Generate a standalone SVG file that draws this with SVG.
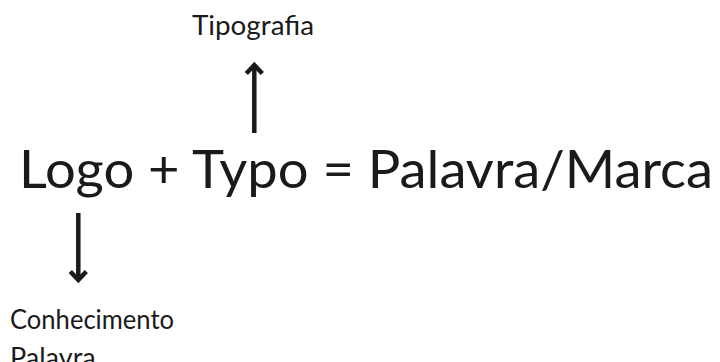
<svg xmlns="http://www.w3.org/2000/svg" width="720" height="362" viewBox="0 0 720 362">
  <style>
    .t { font-family: Lato, "Liberation Sans", sans-serif; fill: #1a1a1a; font-weight: 400; }
    .main { font-size: 53px; }
    .lbl { font-size: 27px; }
    .conn { stroke: #1a1a1a; stroke-width: 4.5; fill: none; }
  </style>
  <defs>
    <marker id="head" markerUnits="userSpaceOnUse" viewBox="-14 -14 28 28" markerWidth="28" markerHeight="28" refX="0" refY="0" orient="auto" overflow="visible">
      <path d="M-8.5,-8 L0,0 L-8.5,8" fill="none" stroke="#1a1a1a" stroke-width="4.5" stroke-linejoin="miter" stroke-miterlimit="10"/>
    </marker>
  </defs>
  <rect width="720" height="362" fill="#ffffff"/>
  <g id="equation">
    <text class="t main" x="19" y="188" textLength="694" lengthAdjust="spacingAndGlyphs">Logo + Typo = Palavra/Marca</text>
  </g>
  <g id="tipografia">
    <text class="t lbl" x="192" y="35" textLength="122" lengthAdjust="spacingAndGlyphs">Tipografia</text>
  </g>
  <g id="conhecimento">
    <text class="t lbl" x="10" y="329" textLength="164" lengthAdjust="spacingAndGlyphs">Conhecimento</text>
    <text class="t lbl" x="10" y="367">Palavra</text>
  </g>
  <g id="connectors">
    <line class="conn" x1="254.3" y1="133" x2="254.3" y2="65" marker-end="url(#head)"/>
    <line class="conn" x1="78.3" y1="213" x2="78.3" y2="280" marker-end="url(#head)"/>
  </g>
</svg>
